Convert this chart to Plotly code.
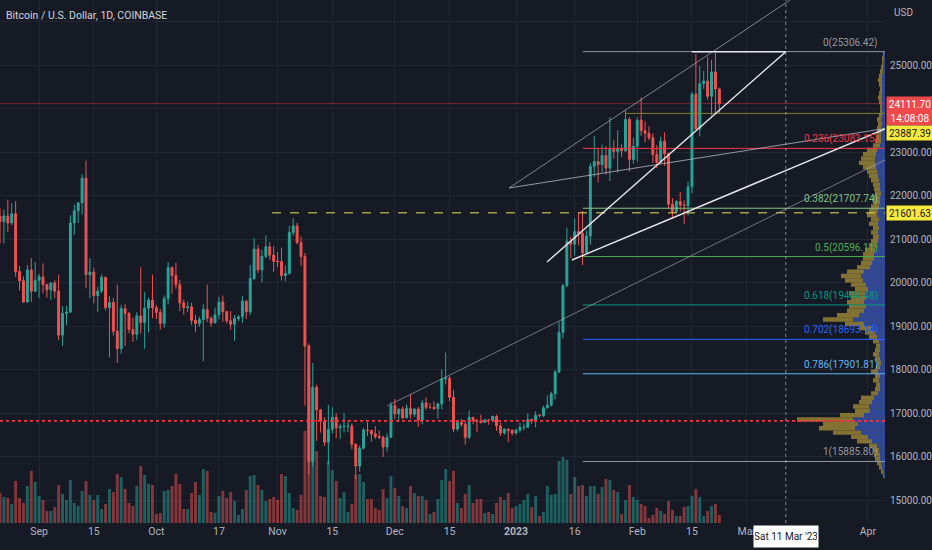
import pandas as pd
import plotly.graph_objects as go

# daily candles, Coinbase BTC/USD, 2022-08-22 .. 2023-02-22
first_day = "2022-08-22"

opens = [
    21520, 21400, 21530, 21370, 21580, 20250, 20040, 19550, 20290, 19800,
    20050, 20130, 19950, 19830, 19990, 19800, 18790, 19290, 19320, 21370, 21650, 21830, 22400, 20180, 20240,
    19700, 19800, 20120, 19420, 19540, 18880, 18480, 19400, 19290, 18920, 18810, 19230, 19080, 19410, 19590,
    19420, 19310, 19060, 19630, 20340, 20160, 19950, 19530, 19420, 19440, 19130, 19060, 19150, 19380, 19180,
    19070, 19260, 19550, 19330, 19120, 19040, 19170, 19210, 19570, 19330, 20090, 20770, 20290, 20600, 20820, 20630,
    20490, 20480, 20160, 20210, 21150, 21300, 20920, 20600, 18540, 15880, 17590, 17070, 16810, 16330, 16620,
    16900, 16660, 16690, 16700, 16700, 16280, 15780, 16190, 16610, 16600, 16520, 16460, 16440, 16220, 16440,
    17170, 16980, 17090, 16890, 17110, 16970, 17090, 16840, 17230, 17130, 17130, 17100, 17210, 17780, 17800,
    17360, 16630, 16780, 16740, 16440, 16900, 16830, 16820, 16780, 16840, 16830, 16920, 16700, 16540, 16630, 16600,
    16540, 16610, 16670, 16670, 16850, 16830, 16950, 16940, 17120, 17180, 17440, 17940, 18850, 19930, 20950,
    20880, 21170, 21130, 20680, 21070, 22670, 22780, 22710, 22920, 22630, 23060, 23010, 23080, 23030, 23750, 22830,
    23130, 23730, 23490, 23430, 23330, 22940, 22760, 23250, 22960, 21800, 21630,
    21860, 21780, 21770, 22200, 24330, 23530, 24570, 24630, 24280, 24840, 24450,
]
highs = [
    21700, 21680, 21900, 21820, 21870, 20380, 20140, 20400, 20560, 20470,
    20200, 20440, 19970, 20000, 20050, 20180, 19460, 19460, 21550, 21790, 21850, 22490, 22800, 20560, 20340,
    19900, 20190, 20130, 19690, 19640, 19950, 19490, 19500, 19320, 19190, 19320, 20350, 19780, 19650, 20180,
    19480, 19390, 19700, 20470, 20370, 20450, 20060, 19610, 19560, 19530, 19260, 19220, 19500, 19950, 19220,
    19420, 19670, 19700, 19350, 19340, 19250, 19250, 19690, 19600, 20400, 21020, 20860, 20750, 21080, 20930, 20840,
    20700, 20800, 20390, 21300, 21480, 21370, 21060, 20680, 18600, 18150, 17650, 17090, 16900, 17190, 17130,
    16990, 16760, 17000, 16820, 16760, 16300, 16250, 16660, 16790, 16610, 16700, 16600, 16480, 16530, 17250,
    17320, 17100, 17150, 17200, 17420, 17110, 17140, 17300, 17360, 17230, 17270, 17240, 18000, 18390, 17850,
    17530, 16800, 16860, 16820, 17060, 16910, 16870, 16960, 16870, 16860, 16940, 16960, 16780, 16650, 16640, 16630,
    16630, 16780, 16760, 16990, 16870, 17040, 16970, 17170, 17400, 17490, 17990, 19100, 19970, 21260, 21050,
    21470, 21610, 21650, 21190, 22750, 23370, 23080, 23170, 23140, 23800, 23280, 23500, 23180, 23960, 23800, 23320,
    23790, 24250, 23700, 23590, 23430, 23160, 23350, 23450, 22990, 21940, 21900,
    22080, 21890, 22320, 24380, 25250, 24980, 24870, 25190, 25120, 25270, 24480,
]
lows = [
    20900, 20900, 21160, 21320, 20130, 19820, 19530, 19540, 19550, 19790,
    19650, 19760, 19650, 19600, 19640, 18680, 18540, 19020, 19300, 21090, 21370, 21560, 19870, 19640, 19520,
    19330, 19760, 19360, 18280, 18780, 18150, 18360, 18540, 18830, 18640, 18680, 18830, 18480, 18850, 19180,
    19160, 18920, 18960, 19500, 19740, 19860, 19340, 19260, 19320, 19030, 18860, 18980, 18190, 19090, 18980,
    19070, 19150, 19100, 19060, 18910, 18660, 19110, 19070, 19160, 19250, 20060, 20220, 20000, 20560, 20520, 20250,
    20350, 20050, 20030, 20180, 21080, 20880, 20390, 17170, 15590, 15760, 16360, 16550, 16240, 15820, 16530,
    16420, 16400, 16550, 16560, 16170, 15480, 15650, 16160, 16470, 16340, 16400, 16400, 15990, 16110, 16430,
    16860, 16790, 16860, 16880, 16870, 16910, 16680, 16740, 17070, 17090, 17070, 16870, 17080, 17660, 17270,
    16560, 16580, 16680, 16270, 16400, 16740, 16560, 16760, 16780, 16730, 16790, 16590, 16470, 16500, 16330, 16480,
    16500, 16550, 16600, 16660, 16750, 16670, 16900, 16910, 17100, 17150, 17310, 17930, 18720, 19890, 20560,
    20620, 20850, 20400, 20660, 20870, 22430, 22300, 22520, 22480, 22330, 22850, 22530, 22890, 23000, 22550, 22730,
    22780, 23370, 23220, 23270, 22750, 22630, 22740, 22680, 21690, 21460, 21600,
    21630, 21350, 21540, 22050, 23510, 23360, 24450, 24200, 23840, 23870, 23900,
]
closes = [
    21400, 21530, 21370, 21580, 20250, 20040, 19550, 20290, 19800, 20050,
    20130, 19950, 19830, 19990, 19800, 18790, 19290, 19320, 21370, 21650, 21830, 22400, 20180, 20240, 19700,
    19800, 20120, 19420, 19540, 18880, 18480, 19400, 19290, 18920, 18810, 19230, 19080, 19410, 19590, 19420,
    19310, 19060, 19630, 20340, 20160, 19950, 19530, 19420, 19440, 19130, 19060, 19150, 19380, 19180, 19070,
    19260, 19550, 19330, 19120, 19040, 19170, 19210, 19570, 19330, 20090, 20770, 20290, 20600, 20820, 20630, 20490,
    20480, 20160, 20210, 21150, 21300, 20920, 20600, 18540, 15880, 17590, 17070, 16810, 16330, 16620, 16900,
    16660, 16690, 16700, 16700, 16280, 15780, 16190, 16610, 16600, 16520, 16460, 16440, 16220, 16440, 17170,
    16980, 17090, 16890, 17110, 16970, 17090, 16840, 17230, 17130, 17130, 17100, 17210, 17780, 17800, 17360,
    16630, 16780, 16740, 16440, 16900, 16830, 16820, 16780, 16840, 16830, 16920, 16700, 16540, 16630, 16600, 16540,
    16610, 16670, 16670, 16850, 16830, 16950, 16940, 17120, 17180, 17440, 17940, 18850, 19930, 20950, 20880,
    21170, 21130, 20680, 21070, 22670, 22780, 22710, 22920, 22630, 23060, 23010, 23080, 23030, 23750, 22830, 23130,
    23730, 23490, 23430, 23330, 22940, 22760, 23250, 22960, 21800, 21630, 21860,
    21780, 21770, 22200, 24330, 23530, 24570, 24630, 24280, 24840, 24450, 24111.70,
]
# volume, thousand BTC
volumes = [
    30, 26, 25, 19, 42, 25, 20, 37, 52, 41,
    27, 23, 12, 12, 16, 38, 29, 23, 43, 20, 17, 32, 42, 28, 23, 28, 14, 19, 34, 31,
    49, 46, 34, 20, 17, 37, 57, 48, 39, 38,
    9, 10, 32, 33, 37, 49, 39, 14, 14, 30, 41, 28, 54, 52, 11, 10, 27, 32, 25, 31,
    22, 8, 14, 33, 47, 48, 38, 33, 22, 24, 26,
    23, 49, 47, 30, 15, 13, 28, 92, 145, 110, 72, 27, 26, 62, 53, 42, 25, 31, 11, 19,
    48, 49, 41, 24, 24, 15, 13, 34, 25, 47,
    35, 27, 17, 15, 37, 30, 27, 27, 23, 9, 11, 24, 43, 54, 42, 52, 20,
    15, 29, 38, 20, 24, 24, 10, 11, 9, 20, 26, 23, 30, 15,
    17, 19, 23, 29, 16, 27, 7, 11, 37, 28, 29, 62, 66, 63,
    29, 46, 37, 38, 27, 37, 37, 29, 36, 44, 43, 33, 31, 9, 23, 38, 26,
    23, 19, 17, 5, 8, 15, 12, 9, 22, 13, 7, 7, 16, 17, 27, 34, 26, 7, 12, 17, 19, 8,
]

# visible-range volume profile, rows of 100 USD from 15500 up
vp_row_low = list(range(15500, 25300, 100))
vp_total = [
    2, 4, 6, 8, 10, 11, 12, 16, 28, 34,
    52, 66, 62, 88, 45, 30, 32, 26, 24, 14,
    10, 9, 12, 10, 14, 9, 8, 10, 12, 10,
    9, 12, 16, 20, 26, 40, 62, 48, 38, 36,
    38, 34, 36, 30, 34, 40, 44, 38, 28, 24,
    22, 22, 20, 16, 14, 12, 14, 12, 16, 14,
    18, 16, 14, 12, 12, 10, 11, 12, 14, 16,
    18, 22, 26, 24, 22, 18, 12, 10, 9, 8,
    8, 7, 8, 6, 5, 5, 6, 7, 6, 5,
    6, 7, 6, 5, 4, 3, 3, 2,
]
vp_up = [
    1, 2, 3, 4, 5, 5, 6, 8, 13, 17,
    24, 30, 27, 32, 21, 15, 16, 13, 11, 7,
    5, 5, 6, 5, 7, 5, 4, 5, 6, 5,
    5, 6, 8, 10, 14, 21, 32, 26, 21, 19,
    21, 19, 20, 17, 19, 22, 24, 21, 15, 13,
    11, 11, 10, 8, 7, 6, 7, 6, 7, 6,
    8, 7, 6, 5, 5, 4, 5, 5, 6, 7,
    8, 9, 10, 10, 9, 8, 5, 4, 4, 4,
    4, 3, 4, 3, 3, 3, 3, 3, 3, 3,
    3, 3, 3, 2, 2, 2, 1, 1,
]

# fib retracement drawn from the Feb high down to the Nov low
fib_high = 25306.42
fib_low = 15885.80
fib_ratios = ["0", "0.236", "0.382", "0.5", "0.618", "0.702", "0.786", "1"]
fib_start = "2023-01-18 02:30"

# hand-drawn trend lines (start date, start price, end date, end price)
line_start_dates = ["2022-11-29", "2022-12-30 05:00", "2022-12-30 05:00", "2023-01-08 22:00", "2023-01-15 07:00"]
line_start_prices = [17161, 22172, 22172, 20471, 20517]
line_end_dates = ["2023-04-05 09:00", "2023-03-12 01:40", "2023-04-05 09:00", "2023-03-11", "2023-04-05 09:00"]
line_end_prices = [22816, 26494, 23540, 25306.42, 23529]
top_segment_start = "2023-02-15"

last_price = 24111.70
countdown = "14:08:08"
level_a = 23887.39
level_a_start = "2023-01-28 21:00"
level_b = 21601.63
level_b_start = "2022-10-30 14:00"
poc_price = 16820
cursor_day = "2023-03-11"

tick_days = ["2022-09-01", "2022-09-15", "2022-10-01", "2022-10-17", "2022-11-01", "2022-11-15",
             "2022-12-01", "2022-12-15", "2023-01-01", "2023-01-16", "2023-02-01", "2023-02-15",
             "2023-03-01", "2023-04-01"]
tick_names = ["Sep", "15", "Oct", "17", "Nov", "15", "Dec", "15", "<b>2023</b>", "16", "Feb", "15", "Mar", "Apr"]
price_ticks = list(range(15000, 27000, 1000))
# 24000 sits under the live price tag and 26000 under the currency label
hidden_ticks = [24000, 26000]
price_tick_names = ["" if p in hidden_ticks else f"{p:.2f}" for p in price_ticks]

x_end = "2023-04-05 09:00"

FONT = "Roboto, Arial, sans-serif"
BG = "#161a25"
GRID = "#222633"
TXT = "#b2b5be"
UP = "#26a69a"
DOWN = "#ef5350"
fib_colors = ["#9598a1", "#f23645", "#81c784", "#4caf50", "#089981", "#2962ff", "#64b5f6", "#9598a1"]
line_styles = [
    dict(color="rgba(190,192,200,0.55)", width=1),
    dict(color="rgba(200,202,210,0.6)", width=1),
    dict(color="rgba(190,192,200,0.75)", width=1),
    dict(color="#e8e8ec", width=1.4),
    dict(color="#e8e8ec", width=1.4),
]


def axis_box(price, text, bg, fg, shift=0):
    return dict(xref="paper", yref="y2", x=1, y=price, xanchor="left", yanchor="middle",
                xshift=1, yshift=shift, showarrow=False, text=text,
                bgcolor=bg, width=44, height=12, borderpad=1,
                font=dict(family=FONT, size=10, color=fg))


def main():
    days = pd.date_range(first_day, periods=len(closes), freq="D")
    vol_colors = ["rgba(38,166,154,0.5)" if c >= o else "rgba(239,83,80,0.5)"
                  for o, c in zip(opens, closes)]
    vp_mid = [p + 50 for p in vp_row_low]

    fig = go.Figure()
    fig.add_trace(go.Bar(
        x=days, y=volumes, marker_color=vol_colors, marker_line_width=0,
        width=0.75 * 86400000, xaxis="x", yaxis="y", hoverinfo="skip",
    ))
    fig.add_trace(go.Candlestick(
        x=days, open=opens, high=highs, low=lows, close=closes,
        increasing=dict(line=dict(color=UP, width=1), fillcolor=UP),
        decreasing=dict(line=dict(color=DOWN, width=1), fillcolor=DOWN),
        whiskerwidth=0, xaxis="x", yaxis="y2", hoverinfo="skip",
    ))
    fig.add_trace(go.Bar(
        y=vp_mid, x=vp_total, orientation="h", width=100,
        marker_color="rgba(150,130,52,0.85)", marker_line_width=0,
        xaxis="x2", yaxis="y2", hoverinfo="skip",
    ))
    fig.add_trace(go.Bar(
        y=vp_mid, x=vp_up, orientation="h", width=100,
        marker_color="rgba(38,66,160,0.9)", marker_line_width=0,
        xaxis="x2", yaxis="y2", hoverinfo="skip",
    ))

    shapes = []

    def hline(x0, x1, y, color, width=1, dash="solid"):
        shapes.append(dict(type="line", xref="x", yref="y2", x0=x0, x1=x1, y0=y, y1=y,
                           line=dict(color=color, width=width, dash=dash)))

    hline(first_day, x_end, last_price, "rgba(242,54,69,0.45)")
    hline(first_day, x_end, poc_price, "#f23645", 1.6, "dot")
    hline(level_b_start, x_end, level_b, "#e6e35a", 1, "dash")
    hline(level_a_start, x_end, level_a, "rgba(140,140,40,0.9)")

    annotations = []
    span = fib_high - fib_low
    for r, col in zip(fib_ratios, fib_colors):
        price = fib_high - float(r) * span
        hline(fib_start, x_end, price, col, 1)
        annotations.append(dict(
            xref="paper", yref="y2", x=880 / 885, y=price, xanchor="right", yanchor="bottom",
            yshift=1, showarrow=False, text=f"{r}({price:.2f})",
            font=dict(family=FONT, size=10, color=col),
        ))

    hline(top_segment_start, cursor_day, fib_high, "#e8e8ec", 1.5)

    for x0, y0, x1, y1, st in zip(line_start_dates, line_start_prices, line_end_dates,
                                  line_end_prices, line_styles):
        shapes.append(dict(type="line", xref="x", yref="y2", x0=x0, y0=y0, x1=x1, y1=y1, line=st))

    shapes.append(dict(type="line", xref="x", yref="paper", x0=cursor_day, x1=cursor_day, y0=0, y1=1,
                       line=dict(color="rgba(160,163,172,0.8)", width=1, dash="dot")))

    annotations += [
        dict(xref="paper", yref="paper", x=4 / 885, y=1 - 16 / 523, xanchor="left", yanchor="middle",
             showarrow=False, text="Bitcoin / U.S. Dollar, 1D, COINBASE",
             font=dict(family=FONT, size=10.5, color="#d1d4dc")),
        dict(xref="paper", yref="paper", x=1, y=1 - 12 / 523, xanchor="left", yanchor="middle",
             xshift=7, showarrow=False, text="USD", font=dict(family=FONT, size=10, color=TXT)),
        axis_box(last_price, f"{last_price:.2f}", "#f0494c", "#ffffff", shift=0),
        axis_box(last_price, countdown, "#f0494c", "#ffffff", shift=-14),
        axis_box(level_a, f"{level_a:.2f}", "#f7ea3f", "#131722", shift=-20),
        axis_box(level_b, f"{level_b:.2f}", "#f7ea3f", "#131722"),
        dict(xref="x", yref="paper", x=cursor_day, y=0, xanchor="center", yanchor="top",
             yshift=-2, showarrow=False,
             text=pd.Timestamp(cursor_day).strftime("%a %d %b '%y"),
             bgcolor="#ffffff", width=62, height=19, borderpad=1,
             font=dict(family=FONT, size=10, color="#131722")),
    ]

    fig.update_layout(
        width=932, height=550, autosize=False,
        margin=dict(l=0, r=47, t=0, b=27),
        paper_bgcolor=BG, plot_bgcolor=BG,
        showlegend=False, barmode="overlay", hovermode=False,
        shapes=shapes, annotations=annotations,
        font=dict(family=FONT, color=TXT, size=10),
        xaxis=dict(
            type="date", range=[first_day, x_end], domain=[0, 1],
            tickmode="array", tickvals=tick_days, ticktext=tick_names,
            showgrid=True, gridcolor=GRID, gridwidth=1, zeroline=False, showline=False,
            ticks="", tickfont=dict(family=FONT, size=10.5, color=TXT),
            rangeslider=dict(visible=False), fixedrange=True,
        ),
        xaxis2=dict(overlaying="x", anchor="y2", range=[885, 0], visible=False, fixedrange=True),
        yaxis=dict(range=[0, 523], visible=False, fixedrange=True),
        yaxis2=dict(
            overlaying="y", side="right", anchor="x", range=[14471.3, 26494.3],
            tickmode="array", tickvals=price_ticks, ticktext=price_tick_names,
            showgrid=True, gridcolor=GRID, gridwidth=1, zeroline=False, showline=False,
            ticks="", ticklabelstandoff=4,
            tickfont=dict(family=FONT, size=10, color=TXT), fixedrange=True,
        ),
    )
    # the page body has a default margin; drop it so the chart sits at the window corner
    fig.write_html("out.html", config={"displayModeBar": False},
                   post_script="document.body.style.margin='0';")


if __name__ == "__main__":
    main()
